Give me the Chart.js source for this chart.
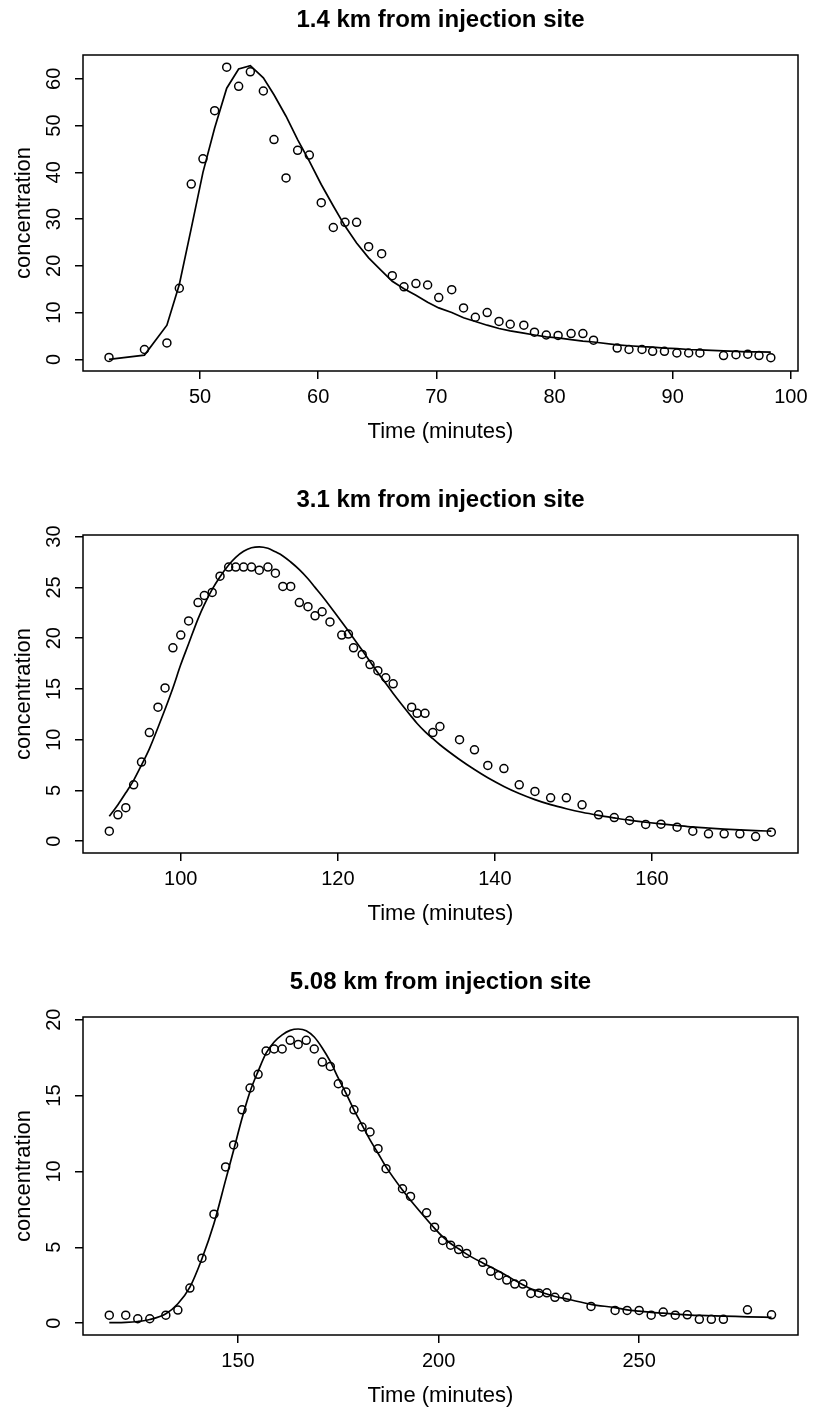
<!DOCTYPE html>
<html>
<head>
<meta charset="utf-8">
<title>Concentration vs time</title>
<script src="https://cdn.jsdelivr.net/npm/chart.js@4.4.1/dist/chart.umd.min.js"></script>
<style>
  html, body { margin: 0; padding: 0; background: #fff; overflow: hidden; }
  .panel { position: absolute; left: 0; }
</style>
</head>
<body>
<div class="panel" style="top:0px"><canvas id="c1" width="813" height="480"></canvas></div>
<div class="panel" style="top:480px"><canvas id="c2" width="813" height="482"></canvas></div>
<div class="panel" style="top:962px"><canvas id="c3" width="813" height="482"></canvas></div>
<script>
// --- 1.4 km ---
const time1 = [42.3, 45.3, 47.2, 48.25, 49.26, 50.25, 51.24, 52.26, 53.27, 54.26, 55.36, 56.26, 57.28, 58.26, 59.25,
  60.26, 61.28, 62.27, 63.25, 64.27, 65.37, 66.27, 67.26, 68.27, 69.26, 70.2, 71.3, 72.3, 73.3, 74.3, 75.3, 76.25,
  77.4, 78.3, 79.3, 80.3, 81.4, 82.4, 83.3, 85.3, 86.3, 87.4, 88.3, 89.3, 90.35, 91.35, 92.3, 94.3, 95.35, 96.35, 97.3, 98.3];
const conc1 = [0.4, 2.1, 3.5, 15.2, 37.5, 42.9, 53.2, 62.5, 58.4, 61.5, 57.4, 47.0, 38.8, 44.7, 43.7,
  33.5, 28.2, 29.3, 29.3, 24.1, 22.6, 17.9, 15.5, 16.2, 15.9, 13.2, 14.9, 11.0, 9.0, 10.0, 8.1, 7.5,
  7.3, 5.8, 5.2, 5.1, 5.5, 5.5, 4.1, 2.4, 2.1, 2.1, 1.7, 1.7, 1.35, 1.35, 1.35, 0.8, 1.0, 1.1, 0.8, 0.35];
const fit1 = [0.0, 0.9, 7.3, 16.0, 28.0, 40.0, 49.5, 58.0, 62.1, 62.8, 60.2, 56.6, 52.0, 47.0, 42.4,
  37.4, 32.8, 28.5, 24.9, 21.7, 18.9, 16.7, 15.1, 13.7, 12.2, 11.0, 10.0, 8.9, 8.1, 7.3, 6.6, 6.1,
  5.6, 5.2, 4.8, 4.6, 4.2, 3.9, 3.7, 3.1, 2.9, 2.7, 2.6, 2.4, 2.3, 2.1, 2.0, 1.8, 1.7, 1.6, 1.6, 1.55];
const xTicks1 = [50, 60, 70, 80, 90, 100];
const yTicks1 = [0, 10, 20, 30, 40, 50, 60];

// --- 3.1 km ---
const time2 = [90.9, 92.0, 93.0, 94.0, 95.0, 96.0, 97.1, 98.0, 99.0, 100.0, 101.0, 102.2, 103.0, 104.0, 105.0,
  106.1, 107.0, 108.0, 109.0, 110.0, 111.1, 112.05, 113.0, 114.0, 115.1, 116.2, 117.1, 118.0, 119.0, 120.5,
  121.35, 122.0, 123.1, 124.1, 125.1, 126.1, 127.05, 129.4, 130.1, 131.1, 132.1, 133.0, 135.5, 137.4, 139.1,
  141.15, 143.1, 145.1, 147.1, 149.1, 151.1, 153.2, 155.2, 157.15, 159.2, 161.15, 163.2, 165.2, 167.2, 169.2,
  171.2, 173.2, 175.2];
const conc2 = [0.99, 2.6, 3.3, 5.56, 7.8, 10.7, 13.2, 15.1, 19.05, 20.3, 21.7, 23.5, 24.2, 24.5, 26.1,
  27.0, 27.0, 27.0, 27.0, 26.7, 27.0, 26.4, 25.1, 25.1, 23.5, 23.1, 22.2, 22.6, 21.6, 20.3,
  20.4, 19.05, 18.4, 17.4, 16.8, 16.1, 15.5, 13.2, 12.6, 12.6, 10.7, 11.3, 10.0, 9.0, 7.46,
  7.16, 5.56, 4.9, 4.27, 4.27, 3.58, 2.6, 2.33, 2.04, 1.65, 1.68, 1.38, 0.99, 0.73, 0.73,
  0.73, 0.46, 0.89];
const fit2 = [2.46, 3.6, 4.77, 6.0, 7.5, 9.1, 11.2, 13.0, 15.1, 17.4, 19.45, 21.9, 23.3, 24.8, 26.05,
  27.2, 27.95, 28.55, 28.9, 29.0, 28.85, 28.5, 28.1, 27.5, 26.75, 25.85, 25.0, 24.15, 23.15, 21.6,
  20.7, 20.0, 18.8, 17.7, 16.6, 15.55, 14.55, 12.25, 11.6, 10.8, 10.1, 9.5, 8.05, 7.06, 6.25,
  5.4, 4.7, 4.1, 3.6, 3.2, 2.85, 2.55, 2.3, 2.07, 1.87, 1.7, 1.55, 1.41, 1.3, 1.2,
  1.12, 1.05, 0.99];
const xTicks2 = [100, 120, 140, 160];
const yTicks2 = [0, 5, 10, 15, 20, 25, 30];

// --- 5.08 km ---
const time3 = [117.9, 122, 125, 128, 132, 135, 138, 141, 144, 146.9, 148.9, 151, 153, 155, 157, 159, 161, 163,
  165, 167, 169, 171, 173, 175, 176.9, 178.9, 180.9, 182.9, 184.9, 186.9, 191, 193, 197, 199, 201, 203, 205,
  207, 211, 213, 215, 217, 219, 221, 223, 225, 227, 229, 232, 238, 244, 247, 250, 253, 256, 259, 262, 265,
  268, 271, 277, 283];
const conc3 = [0.53, 0.53, 0.29, 0.29, 0.53, 0.86, 2.31, 4.28, 7.18, 10.3, 11.75, 14.06, 15.5, 16.4, 17.94,
  18.07, 18.07, 18.64, 18.37, 18.64, 18.07, 17.21, 16.92, 15.78, 15.23, 14.06, 12.93, 12.6, 11.5, 10.18,
  8.86, 8.35, 7.27, 6.33, 5.45, 5.14, 4.85, 4.6, 4.01, 3.42, 3.15, 2.84, 2.58, 2.58, 1.96, 1.98, 2.0,
  1.7, 1.7, 1.1, 0.84, 0.84, 0.84, 0.53, 0.73, 0.53, 0.55, 0.25, 0.25, 0.25, 0.88, 0.55];
const fit3 = [0.03, 0.05, 0.11, 0.24, 0.62, 1.28, 2.38, 4.25, 6.57, 9.43, 11.4, 13.5, 15.27, 16.6, 17.8,
  18.53, 19.0, 19.3, 19.39, 19.28, 18.86, 18.14, 17.25, 16.15, 15.16, 14.06, 13.07, 12.08, 11.2, 10.3,
  8.77, 8.1, 6.85, 6.25, 5.7, 5.25, 4.9, 4.55, 3.97, 3.7, 3.42, 3.13, 2.82, 2.54, 2.27, 2.1, 1.92,
  1.76, 1.59, 1.24, 1.02, 0.88, 0.79, 0.71, 0.66, 0.6, 0.55, 0.51, 0.49, 0.47, 0.42, 0.38];
const xTicks3 = [150, 200, 250];
const yTicks3 = [0, 5, 10, 15, 20];

Chart.defaults.font.family = '"Liberation Sans", Arial, Helvetica, sans-serif';
Chart.defaults.color = '#000';

// box around the plot region (like R's bty="o")
const frame = {
  id: 'frame',
  afterDraw(chart) {
    const { ctx, chartArea: a } = chart;
    ctx.save();
    ctx.strokeStyle = '#000';
    ctx.lineWidth = 1.5;
    ctx.strokeRect(a.left, a.top, a.right - a.left, a.bottom - a.top);
    ctx.restore();
  }
};

function makePanel(id, title, t, c, fit, smooth, xr, yr, xTicks, yTicks) {
  const obs = t.map((v, i) => ({ x: v, y: c[i] }));
  const curve = t.map((v, i) => ({ x: v, y: fit[i] }));
  const gridOpts = { display: true, drawOnChartArea: false, drawTicks: true, tickLength: 8, color: '#000', lineWidth: 1.5 };

  return new Chart(document.getElementById(id), {
    type: 'scatter',
    data: {
      datasets: [
        { data: curve, showLine: true, borderColor: '#000', borderWidth: 1.7, pointRadius: 0,
          tension: smooth ? 0.4 : 0, cubicInterpolationMode: smooth ? 'monotone' : 'default' },
        { data: obs, pointRadius: 4, borderWidth: 1.5, borderColor: '#000', backgroundColor: 'rgba(0,0,0,0)' }
      ]
    },
    options: {
      responsive: false,
      animation: false,
      events: [],
      layout: { padding: { left: 0, right: 15, top: 0, bottom: 0 } },
      plugins: {
        legend: { display: false },
        tooltip: { enabled: false },
        title: { display: true, text: title, fullSize: false, color: '#000',
          font: { size: 24, weight: 'bold' }, padding: { top: 6, bottom: 20.2 } }
      },
      scales: {
        x: {
          type: 'linear', min: xr[0], max: xr[1],
          afterBuildTicks: s => { s.ticks = xTicks.map(v => ({ value: v })); },
          afterFit: s => { s.height = 109; s.paddingLeft = 0; s.paddingRight = 0; },
          grid: gridOpts,
          border: { display: false },
          ticks: { font: { size: 20 }, color: '#000', padding: 6, autoSkip: false, maxRotation: 0 },
          title: { display: true, text: 'Time (minutes)', color: '#000', font: { size: 22 }, padding: { top: 0, bottom: 35 } }
        },
        y: {
          type: 'linear', min: yr[0], max: yr[1],
          afterBuildTicks: s => { s.ticks = yTicks.map(v => ({ value: v })); },
          afterFit: s => { s.width = 83; s.paddingTop = 0; s.paddingBottom = 0; },
          grid: gridOpts,
          border: { display: false },
          ticks: { font: { size: 20 }, color: '#000', padding: 9, minRotation: 90, maxRotation: 90, crossAlign: 'center' },
          title: { display: true, text: 'concentration', color: '#000', font: { size: 22 }, padding: { top: 11, bottom: 0 } }
        }
      }
    },
    plugins: [frame]
  });
}

makePanel('c1', '1.4 km from injection site', time1, conc1, fit1, false, [40.1, 100.6], [-2.5, 65.1], xTicks1, yTicks1);
makePanel('c2', '3.1 km from injection site', time2, conc2, fit2, true, [87.55, 178.6], [-1.16, 30.16], xTicks2, yTicks2);
makePanel('c3', '5.08 km from injection site', time3, conc3, fit3, true, [111.35, 289.6], [-0.78, 20.18], xTicks3, yTicks3);
</script>
</body>
</html>
